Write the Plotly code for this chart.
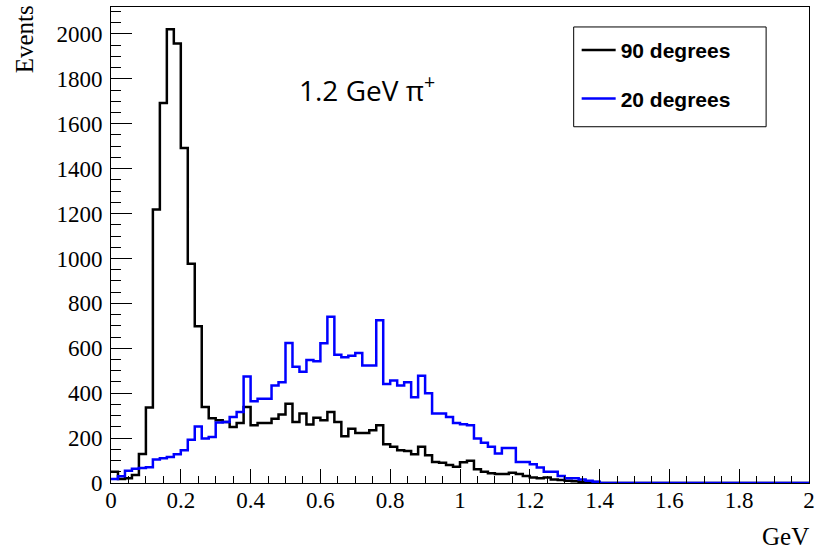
import numpy as np
import plotly.graph_objects as go

# Histogram binning: 100 bins from 0 to 2 GeV
x_min = 0.0
x_max = 2.0
n_bins = 100

series_names = ["90 degrees", "20 degrees"]

counts_90deg = [
    50, 18, 21, 36, 129, 336, 1218, 1692, 2021, 1957,
    1492, 976, 698, 338, 288, 280, 272, 249, 267, 338,
    257, 267, 267, 286, 305, 353, 272, 309, 261, 291,
    279, 316, 272, 208, 242, 223, 223, 235, 257, 173,
    161, 146, 143, 128, 161, 124, 94, 90, 80, 72,
    92, 99, 61, 50, 43, 40, 40, 46, 40, 31,
    25, 21, 25, 16, 13, 10, 8, 6, 4, 4,
    0, 0, 0, 0, 0, 0, 0, 0, 0, 0,
    0, 0, 0, 0, 0, 0, 0, 0, 0, 0,
    0, 0, 0, 0, 0, 0, 0, 0, 0, 0,
]

counts_20deg = [
    18, 30, 55, 63, 67, 70, 105, 110, 116, 128,
    146, 193, 252, 198, 205, 269, 272, 294, 316, 474,
    364, 375, 375, 434, 449, 624, 518, 496, 548, 542,
    622, 740, 571, 560, 567, 579, 523, 523, 725, 441,
    456, 434, 449, 382, 478, 400, 309, 309, 294, 267,
    262, 257, 198, 179, 161, 131, 156, 156, 94, 94,
    84, 69, 50, 50, 31, 21, 21, 16, 10, 6,
    0, 0, 0, 0, 0, 0, 0, 0, 0, 0,
    0, 0, 0, 0, 0, 0, 0, 0, 0, 0,
    0, 0, 0, 0, 0, 0, 0, 0, 0, 0,
]

x_tick_vals = [0, 0.2, 0.4, 0.6, 0.8, 1, 1.2, 1.4, 1.6, 1.8, 2]
x_tick_text = ["0", "0.2", "0.4", "0.6", "0.8", "1", "1.2", "1.4", "1.6", "1.8", "2"]
y_tick_vals = [0, 200, 400, 600, 800, 1000, 1200, 1400, 1600, 1800, 2000]
y_tick_text = [str(v) for v in y_tick_vals]

edges = np.linspace(x_min, x_max, n_bins + 1)


def step_xy(counts):
    xs = list(edges)
    ys = list(counts) + [counts[-1]]
    return xs, ys


fig = go.Figure()
for name, counts, color in [
    (series_names[0], counts_90deg, "#000000"),
    (series_names[1], counts_20deg, "#0000ff"),
]:
    xs, ys = step_xy(counts)
    fig.add_trace(go.Scatter(
        x=xs, y=ys, mode="lines", name=name, legendgroup=name,
        line=dict(color=color, width=2.5, shape="hv"),
    ))

serif = "Liberation Serif"

# plot area in pixels: left 111, right 811, top 6, bottom 483
def px_x(p):
    return (p - 111) / 700


def px_y(p):
    return (483 - p) / 477


fig.update_layout(
    width=821, height=556,
    margin=dict(l=111, r=10, t=6, b=73),
    paper_bgcolor="white", plot_bgcolor="white",
    showlegend=True,
    legend=dict(
        x=px_x(578), y=px_y(29), xanchor="left", yanchor="top",
        bgcolor="rgba(0,0,0,0)", borderwidth=0,
        font=dict(family="Liberation Sans", size=21, color="black", weight="bold"),
        tracegroupgap=18,
        itemwidth=34,
    ),
    shapes=[
        dict(type="rect", xref="paper", yref="paper",
             x0=px_x(575), x1=px_x(768), y0=px_y(126), y1=px_y(26),
             line=dict(color="black", width=1), fillcolor="rgba(0,0,0,0)", layer="above"),
    ],
    xaxis=dict(
        range=[x_min, x_max], showgrid=False, zeroline=False,
        showline=True, linecolor="black", linewidth=1, mirror=True,
        ticks="inside", ticklen=14, tickcolor="black", tickwidth=1,
        tickvals=x_tick_vals, ticktext=x_tick_text,
        tickfont=dict(family=serif, size=23, color="black"),
        ticklabelstandoff=-4,
        minor=dict(dtick=0.05, ticks="inside", ticklen=7, tickcolor="black", tickwidth=1, showgrid=False),
    ),
    yaxis=dict(
        range=[0, 2120], showgrid=False, zeroline=False,
        showline=True, linecolor="black", linewidth=1, mirror=True,
        ticks="inside", ticklen=21, tickcolor="black", tickwidth=1,
        tickvals=y_tick_vals, ticktext=y_tick_text,
        tickfont=dict(family=serif, size=23, color="black"),
        ticklabelstandoff=3,
        minor=dict(dtick=50, ticks="inside", ticklen=10, tickcolor="black", tickwidth=1, showgrid=False),
    ),
    annotations=[
        dict(text="Events", xref="paper", yref="paper",
             x=px_x(24), y=px_y(2), xanchor="center", yanchor="top",
             textangle=-90, showarrow=False,
             font=dict(family=serif, size=25, color="black")),
        dict(text="GeV", xref="paper", yref="paper",
             x=px_x(813), y=px_y(537), xanchor="right", yanchor="middle",
             showarrow=False, font=dict(family=serif, size=25, color="black")),
        dict(text="1.2 GeV \u03c0<sup>+</sup>", xref="paper", yref="paper",
             x=px_x(368), y=px_y(88), xanchor="center", yanchor="middle",
             showarrow=False, font=dict(family="Open Sans", size=28, color="black")),
    ],
)

fig.write_html(
    "out.html",
    config={"displayModeBar": False},
    post_script="document.body.style.margin='0px';document.body.style.overflow='hidden';",
)
